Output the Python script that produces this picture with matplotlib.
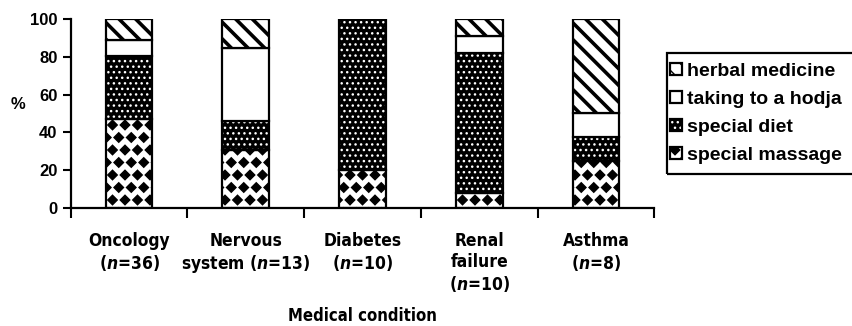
import numpy as np
import matplotlib
matplotlib.use("Agg")
import matplotlib.hatch as mhatch
from matplotlib import pyplot as plt
from matplotlib.path import Path
from matplotlib.patches import Patch, Rectangle
from matplotlib.legend_handler import HandlerTuple


# the '*' hatch is swapped for filled diamonds (closer to the printed pattern)
class Diamonds(mhatch.Shapes):
    size = 0.38
    filled = True

    def __init__(self, hatch, density):
        self.num_rows = hatch.count('*') * 4  # keep it even
        path = Path.unit_regular_polygon(4)
        self.shape_vertices = path.vertices
        self.shape_codes = path.codes
        super().__init__(hatch, density)


mhatch._hatch_types = [Diamonds if h is mhatch.Stars else h for h in mhatch._hatch_types]

categories = ["Oncology\n($n$=36)", "Nervous\nsystem ($n$=13)", "Diabetes\n($n$=10)",
              "Renal\nfailure\n($n$=10)", "Asthma\n($n$=8)"]
special_massage = [47.2, 30.8, 20.0, 8.0, 25.0]
special_diet = [33.4, 15.4, 80.0, 74.0, 12.5]
hodja = [8.3, 38.4, 0.0, 9.0, 12.5]
herbal = [11.1, 15.4, 0.0, 9.0, 50.0]

series = [
    ("special massage", special_massage, "white", "black", "**", 1.0),
    ("special diet", special_diet, "black", "white", "...", 1.0),
    ("taking to a hodja", hodja, "white", "black", "", 1.0),
    ("herbal medicine", herbal, "white", "black", "\\\\", 2.6),
]

plt.rcParams["font.family"] = ["Liberation Sans", "DejaVu Sans"]
plt.rcParams["font.weight"] = "bold"
plt.rcParams["mathtext.fontset"] = "custom"
plt.rcParams["mathtext.it"] = "DejaVu Sans:italic:bold:stretch=condensed"
plt.rcParams["mathtext.rm"] = "DejaVu Sans:bold:stretch=condensed"

fig = plt.figure(figsize=(8.53, 3.26), dpi=100)
ax = fig.add_axes([0.083, 0.362, 0.684, 0.580])

x = np.arange(len(categories)) + 0.5
bottom = np.zeros(len(categories))
handles = []
for name, vals, face, hcol, hatch, hlw in series:
    vals = np.array(vals)
    plt.rcParams["hatch.linewidth"] = hlw
    bars = ax.bar(x, vals, 0.4, bottom=bottom, color=face, edgecolor=hcol,
                  hatch=hatch, linewidth=0)
    for b in bars:
        if hasattr(b, "set_hatch_linewidth"):
            b.set_hatch_linewidth(hlw)
    # black outline on top of the pattern
    ax.bar(x, vals, 0.4, bottom=bottom, fill=False, edgecolor="black", linewidth=1.6)
    h = Patch(facecolor=face, edgecolor=hcol, hatch=hatch, linewidth=0)
    if hasattr(h, "set_hatch_linewidth"):
        h.set_hatch_linewidth(hlw)
    box = Patch(fill=False, edgecolor="black", linewidth=1.6)
    handles.append(((h, box), name))
    bottom += vals

plt.rcParams["hatch.linewidth"] = 1.0

cond = dict(family="DejaVu Sans", stretch="condensed", fontweight="bold")

ax.set_xlim(0, 5)
ax.set_ylim(0, 100)
ax.set_yticks([0, 20, 40, 60, 80, 100])
ax.set_xticks(np.arange(6))
ax.set_xticklabels([])
ax.set_xticks(x, minor=True)
ax.set_xticklabels(categories, minor=True, fontsize=12.5, linespacing=1.22, va="top", **cond)
ax.tick_params(axis="x", which="minor", length=0, pad=17)
ax.tick_params(axis="x", which="major", length=7, width=1.5, direction="out")
ax.tick_params(axis="y", length=6, width=1.5, direction="out", labelsize=12, pad=3.5)
for lab in ax.get_yticklabels():
    lab.set_fontweight("bold")

for side in ["top", "right"]:
    ax.spines[side].set_visible(False)
for side in ["left", "bottom"]:
    ax.spines[side].set_linewidth(1.6)

ax.set_xlabel("Medical condition", fontsize=12, labelpad=9, **cond)
fig.text(0.021, 0.68, "%", fontsize=12, fontweight="bold", ha="center", va="center")

leg = fig.legend([h for h, _ in reversed(handles)], [n for _, n in reversed(handles)],
                 handler_map={tuple: HandlerTuple(ndivide=1)},
                 loc="upper left", bbox_to_anchor=(0.786, 0.806), frameon=False,
                 fontsize=14.0, handlelength=0.57, handleheight=0.57,
                 handletextpad=0.28, labelspacing=0.56, borderpad=0, borderaxespad=0)
for t in leg.get_texts():
    t.set_fontweight("bold")
# legend box runs off the right edge of the figure, as in the print
fig.patches.append(Rectangle((0.782, 0.466), 0.25, 0.372, transform=fig.transFigure,
                             fill=False, edgecolor="black", linewidth=1.6))

fig.savefig("out.png", dpi=100)
